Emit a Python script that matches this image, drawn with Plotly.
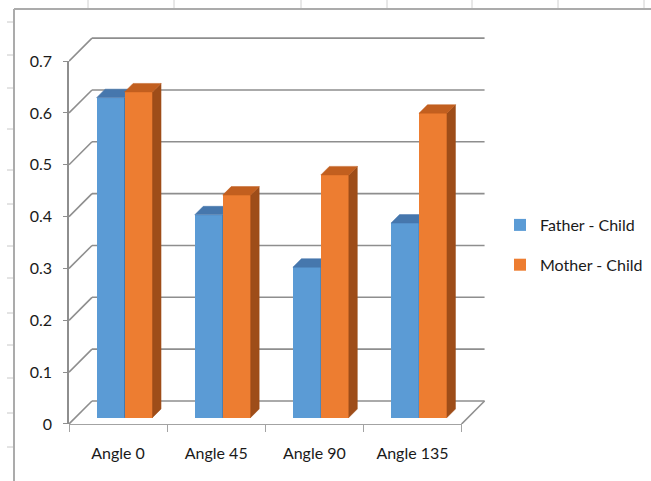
import plotly.graph_objects as go

# ---- data -------------------------------------------------------------
categories = ["Angle 0", "Angle 45", "Angle 90", "Angle 135"]
series_names = ["Father - Child", "Mother - Child"]
father_child = [0.617, 0.391, 0.290, 0.375]
mother_child = [0.628, 0.429, 0.468, 0.587]
value_ticks = [0, 0.1, 0.2, 0.3, 0.4, 0.5, 0.6, 0.7]
value_tick_labels = ["0", "0.1", "0.2", "0.3", "0.4", "0.5", "0.6", "0.7"]

# ---- geometry ---------------------------------------------------------
W, H = 651, 481
M_L, M_R, M_T, M_B = 69, 160, 30, 57
X_RANGE = [-0.5, 3.8]
Y_RANGE = [0, 0.76]
plot_w = W - M_L - M_R
plot_h = H - M_T - M_B
PX_X = plot_w / (X_RANGE[1] - X_RANGE[0])   # pixels per category
PX_Y = plot_h / (Y_RANGE[1] - Y_RANGE[0])   # pixels per value unit

n_cat = len(categories)
cat_lo, cat_hi = -0.5, n_cat - 0.5
v_top = value_ticks[-1]

# oblique depth offsets (pixels), converted to data units
WALL_DX, WALL_DY = 23 / PX_X, 23 / PX_Y
FRONT_DX, FRONT_DY = 6.5 / PX_X, 6.5 / PX_Y
DEPTH_DX, DEPTH_DY = 8.5 / PX_X, 8.5 / PX_Y
BAR_W = 0.285

GRID = "#8e8e8e"
TEXT = "#1a1a1a"
FONT = "Lato"
FS = 16

fig = go.Figure()

# ---- walls: back-wall gridlines, side-wall diagonals, floor edge -------
gx, gy = [], []
for v in value_ticks:
    gx += [cat_lo + WALL_DX, cat_hi + WALL_DX, None]
    gy += [v + WALL_DY, v + WALL_DY, None]
    gx += [cat_lo, cat_lo + WALL_DX, None]
    gy += [v, v + WALL_DY, None]
gx += [cat_hi, cat_hi + WALL_DX, None]
gy += [0, WALL_DY, None]
fig.add_trace(go.Scatter(x=gx, y=gy, mode="lines",
                         line=dict(color=GRID, width=1.6),
                         hoverinfo="skip", showlegend=False))

# helper traces so the front-axis subplots exist
fig.add_trace(go.Scatter(x=[cat_lo], y=[0], xaxis="x2", yaxis="y",
                         mode="markers", marker=dict(opacity=0),
                         hoverinfo="skip", showlegend=False))
fig.add_trace(go.Scatter(x=[cat_lo], y=[0], xaxis="x", yaxis="y2",
                         mode="markers", marker=dict(opacity=0),
                         hoverinfo="skip", showlegend=False))


def add_series(values, name, side, front, top, right, yaxis):
    xs = [i + FRONT_DX + side * BAR_W / 2 for i in range(n_cat)]
    fig.add_trace(go.Bar(x=xs, y=values, base=FRONT_DY, width=BAR_W,
                         name=name, legendgroup=name, yaxis=yaxis,
                         marker=dict(color=front, line=dict(width=0)),
                         hovertemplate="%{y:.3f}<extra>" + name + "</extra>"))
    tx, ty, sx, sy = [], [], [], []
    for xc, v in zip(xs, values):
        x0, x1 = xc - BAR_W / 2, xc + BAR_W / 2
        t = FRONT_DY + v
        tx += [x0, x1, x1 + DEPTH_DX, x0 + DEPTH_DX, x0, None]
        ty += [t, t, t + DEPTH_DY, t + DEPTH_DY, t, None]
        sx += [x1, x1 + DEPTH_DX, x1 + DEPTH_DX, x1, x1, None]
        sy += [FRONT_DY, FRONT_DY + DEPTH_DY, t + DEPTH_DY, t, FRONT_DY, None]
    for px, py, col in ((sx, sy, right), (tx, ty, top)):
        fig.add_trace(go.Scatter(x=px, y=py, yaxis=yaxis, mode="lines",
                                 fill="toself", fillcolor=col,
                                 line=dict(color=col, width=0.5),
                                 hoverinfo="skip", showlegend=False))


add_series(father_child, series_names[0], -1,
           "#5B9BD5", "#4677AD", "#3E6D9C", "y3")
add_series(mother_child, series_names[1], 1,
           "#ED7D31", "#C25F1F", "#9E4D19", "y4")

# ---- spreadsheet frame around the chart -------------------------------
def fx(px):
    return (px - M_L) / plot_w


def fy(py):
    return (H - M_B - py) / plot_h


shapes = []
for cx in [88, 174, 301, 387, 472, 558, 644]:
    shapes.append(dict(type="line", xref="paper", yref="paper",
                       x0=fx(cx), x1=fx(cx), y0=fy(0), y1=fy(9),
                       line=dict(color="#d0d0d0", width=1)))
for ry in [22, 55, 88, 129, 170, 204, 246, 278, 313, 345, 378, 413, 447]:
    shapes.append(dict(type="line", xref="paper", yref="paper",
                       x0=fx(7), x1=fx(14), y0=fy(ry), y1=fy(ry),
                       line=dict(color="#c8c8c8", width=1)))
shapes.append(dict(type="line", xref="paper", yref="paper",
                   x0=fx(14), x1=fx(14), y0=fy(9), y1=fy(H),
                   line=dict(color="#ababab", width=2)))
shapes.append(dict(type="line", xref="paper", yref="paper",
                   x0=fx(14), x1=fx(W), y0=fy(9), y1=fy(9),
                   line=dict(color="#ababab", width=2)))

# ---- layout -----------------------------------------------------------
x_front_frac = (cat_hi - X_RANGE[0]) / (X_RANGE[1] - X_RANGE[0])
y_front_frac = (v_top - Y_RANGE[0]) / (Y_RANGE[1] - Y_RANGE[0])
hidden = dict(showgrid=False, zeroline=False, showline=False,
              showticklabels=False, ticks="")

fig.update_layout(
    width=W, height=H,
    margin=dict(l=M_L, r=M_R, t=M_T, b=M_B, pad=0, autoexpand=False),
    paper_bgcolor="white", plot_bgcolor="rgba(0,0,0,0)",
    font=dict(family=FONT, size=FS, color=TEXT),
    barmode="overlay", bargap=0,
    xaxis=dict(range=X_RANGE, tickvals=list(range(n_cat)),
               ticktext=categories, ticks="", showgrid=False,
               zeroline=False, showline=False, ticklabelstandoff=18,
               tickfont=dict(size=FS, color=TEXT)),
    xaxis2=dict(domain=[0, x_front_frac], range=[cat_lo, cat_hi],
                anchor="y", tickvals=[i - 0.5 for i in range(n_cat + 1)],
                ticks="outside", ticklen=7, tickcolor="#a3a3a3",
                showline=True, linecolor="#a3a3a3", linewidth=1,
                showticklabels=False, showgrid=False, zeroline=False),
    yaxis=dict(range=Y_RANGE, **hidden),
    yaxis2=dict(domain=[0, y_front_frac], range=[0, v_top], anchor="x",
                tickvals=value_ticks, ticktext=value_tick_labels,
                ticks="outside", ticklen=4, tickcolor=GRID,
                showline=True, linecolor=GRID, linewidth=1.6,
                showgrid=False, zeroline=False, ticklabelstandoff=8,
                tickfont=dict(size=FS, color=TEXT)),
    yaxis3=dict(range=Y_RANGE, overlaying="y", **hidden),
    yaxis4=dict(range=Y_RANGE, overlaying="y", **hidden),
    legend=dict(x=fx(500), y=fy(208), xanchor="left", yanchor="top",
                traceorder="grouped", tracegroupgap=16,
                bgcolor="rgba(0,0,0,0)", font=dict(size=FS, color=TEXT)),
    shapes=shapes,
    showlegend=True,
)

fig.write_html("out.html")
